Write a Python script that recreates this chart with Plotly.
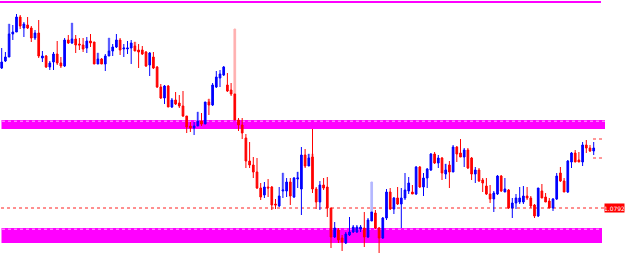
import plotly.graph_objects as go

# OHLC values (price units)
open_ = [1.0932,1.0939,1.0943,1.0966,1.0968,1.0983,1.0972,1.0975,1.0972,1.0962,
         1.0967,1.0942,1.0944,1.0933,1.0938,1.0946,1.0937,1.0934,1.0960,1.0957,
         1.0961,1.0956,1.0955,1.0952,1.0959,1.0958,1.0936,1.0941,1.0936,1.0944,
         1.0949,1.0953,1.0960,1.0951,1.0951,1.0952,1.0954,1.0950,1.0950,1.0948,
         1.0935,1.0943,1.0933,1.0913,1.0902,1.0914,1.0893,1.0900,1.0897,1.0894,
         1.0884,1.0874,1.0872,1.0874,1.0879,1.0876,1.0898,1.0895,1.0913,1.0922,
         1.0925,1.0915,1.0910,1.0906,1.0880,1.0875,1.0862,1.0839,1.0835,1.0828,
         1.0812,1.0805,1.0813,1.0813,1.0796,1.0794,1.0809,1.0809,1.0818,1.0803,
         1.0821,1.0811,1.0845,1.0834,1.0843,1.0811,1.0798,1.0815,1.0813,1.0792,
         1.0763,1.0770,1.0762,1.0757,1.0765,1.0768,1.0768,1.0771,1.0772,1.0763,
         1.0779,1.0787,1.0772,1.0762,1.0782,1.0808,1.0791,1.0802,1.0796,1.0802,
         1.0809,1.0808,1.0806,1.0833,1.0813,1.0822,1.0830,1.0846,1.0837,1.0842,
         1.0826,1.0835,1.0828,1.0853,1.0847,1.0843,1.0850,1.0842,1.0826,1.0830,
         1.0820,1.0814,1.0806,1.0801,1.0806,1.0824,1.0808,1.0810,1.0792,1.0797,
         1.0798,1.0798,1.0804,1.0802,1.0795,1.0784,1.0809,1.0803,1.0799,1.0792,
         1.0801,1.0827,1.0819,1.0808,1.0838,1.0847,1.0840,1.0838,1.0855,1.0852,
         1.0849]
high = [1.0952,1.0948,1.0976,1.0975,1.0986,1.0985,1.0978,1.0983,1.0974,1.0970,
        1.0980,1.0949,1.0945,1.0939,1.0948,1.0959,1.0943,1.0962,1.0965,1.0977,
        1.0965,1.0962,1.0962,1.0963,1.0966,1.0958,1.0947,1.0942,1.0946,1.0962,
        1.0956,1.0966,1.0962,1.0956,1.0959,1.0960,1.0958,1.0956,1.0954,1.0949,
        1.0948,1.0948,1.0934,1.0916,1.0915,1.0915,1.0902,1.0908,1.0905,1.0909,
        1.0884,1.0878,1.0878,1.0888,1.0887,1.0898,1.0901,1.0917,1.0929,1.0930,
        1.0934,1.0927,1.0917,1.0906,1.0882,1.0882,1.0866,1.0858,1.0843,1.0842,
        1.0817,1.0818,1.0821,1.0814,1.0801,1.0813,1.0827,1.0822,1.0822,1.0823,
        1.0828,1.0853,1.0851,1.0846,1.0871,1.0813,1.0819,1.0822,1.0823,1.0792,
        1.0778,1.0772,1.0765,1.0768,1.0783,1.0775,1.0775,1.0775,1.0788,1.0782,
        1.0788,1.0790,1.0773,1.0783,1.0811,1.0812,1.0803,1.0813,1.0812,1.0827,
        1.0823,1.0815,1.0834,1.0834,1.0827,1.0832,1.0847,1.0848,1.0845,1.0843,
        1.0836,1.0839,1.0855,1.0854,1.0861,1.0852,1.0852,1.0843,1.0833,1.0832,
        1.0822,1.0822,1.0815,1.0809,1.0825,1.0825,1.0822,1.0811,1.0802,1.0806,
        1.0813,1.0814,1.0813,1.0804,1.0796,1.0812,1.0816,1.0807,1.0802,1.0802,
        1.0827,1.0833,1.0822,1.0840,1.0848,1.0850,1.0848,1.0858,1.0860,1.0855,
        1.0858]
low = [1.0931,1.0938,1.0943,1.0960,1.0968,1.0971,1.0963,1.0971,1.0958,1.0960,
       1.0942,1.0938,1.0932,1.0930,1.0930,1.0935,1.0932,1.0933,1.0956,1.0956,
       1.0947,1.0950,1.0948,1.0947,1.0953,1.0936,1.0936,1.0936,1.0929,1.0944,
       1.0944,1.0952,1.0945,1.0943,1.0946,1.0936,1.0949,1.0932,1.0945,1.0933,
       1.0924,1.0931,1.0912,1.0901,1.0896,1.0893,1.0892,1.0895,1.0892,1.0883,
       1.0867,1.0868,1.0865,1.0874,1.0874,1.0876,1.0885,1.0894,1.0912,1.0913,
       1.0924,1.0908,1.0904,1.0880,1.0869,1.0861,1.0832,1.0832,1.0822,1.0811,
       1.0800,1.0802,1.0803,1.0790,1.0791,1.0793,1.0802,1.0803,1.0795,1.0802,
       1.0812,1.0785,1.0832,1.0834,1.0807,1.0791,1.0790,1.0810,1.0783,1.0752,
       1.0762,1.0757,1.0749,1.0756,1.0764,1.0767,1.0767,1.0768,1.0753,1.0762,
       1.0779,1.0771,1.0747,1.0761,1.0780,1.0790,1.0786,1.0795,1.0772,1.0800,
       1.0806,1.0806,1.0805,1.0812,1.0804,1.0812,1.0829,1.0836,1.0832,1.0820,
       1.0821,1.0812,1.0828,1.0838,1.0843,1.0833,1.0831,1.0820,1.0817,1.0818,
       1.0808,1.0805,1.0797,1.0788,1.0805,1.0808,1.0808,1.0791,1.0782,1.0791,
       1.0796,1.0796,1.0800,1.0792,1.0782,1.0783,1.0802,1.0798,1.0792,1.0789,
       1.0800,1.0818,1.0808,1.0807,1.0832,1.0838,1.0838,1.0834,1.0847,1.0848,
       1.0845]
close = [1.0938,1.0943,1.0966,1.0968,1.0983,1.0974,1.0976,1.0972,1.0962,1.0967,
         1.0944,1.0944,1.0933,1.0937,1.0946,1.0937,1.0934,1.0960,1.0957,1.0961,
         1.0955,1.0955,1.0951,1.0959,1.0957,1.0936,1.0941,1.0936,1.0944,1.0949,
         1.0953,1.0960,1.0950,1.0952,1.0952,1.0957,1.0949,1.0948,1.0946,1.0934,
         1.0947,1.0932,1.0913,1.0902,1.0914,1.0893,1.0900,1.0896,1.0894,1.0884,
         1.0873,1.0872,1.0874,1.0879,1.0876,1.0898,1.0895,1.0915,1.0923,1.0926,
         1.0933,1.0909,1.0906,1.0880,1.0875,1.0867,1.0839,1.0835,1.0828,1.0812,
         1.0803,1.0813,1.0812,1.0795,1.0795,1.0804,1.0810,1.0818,1.0804,1.0822,
         1.0822,1.0845,1.0834,1.0842,1.0811,1.0798,1.0815,1.0812,1.0792,1.0763,
         1.0772,1.0760,1.0758,1.0766,1.0768,1.0773,1.0773,1.0773,1.0763,1.0780,
         1.0788,1.0772,1.0762,1.0782,1.0808,1.0791,1.0802,1.0796,1.0802,1.0810,
         1.0817,1.0806,1.0833,1.0813,1.0822,1.0831,1.0846,1.0837,1.0842,1.0827,
         1.0830,1.0828,1.0853,1.0846,1.0843,1.0850,1.0832,1.0826,1.0830,1.0819,
         1.0817,1.0806,1.0801,1.0807,1.0824,1.0809,1.0811,1.0792,1.0797,1.0802,
         1.0802,1.0804,1.0802,1.0794,1.0784,1.0812,1.0802,1.0798,1.0792,1.0801,
         1.0824,1.0819,1.0808,1.0839,1.0847,1.0838,1.0838,1.0855,1.0852,1.0849,
         1.0852]
bars = list(range(len(open_)))

# faint (ghost) extensions seen on a few candles
ghost_down_bar = [63, 36, 56, 84]
ghost_down_lo = [1.0906, 1.0954, 1.0898, 1.0843]
ghost_down_hi = [1.0971, 1.0958, 1.0901, 1.0846]
ghost_up_bar = [100, 2, 19, 29, 53, 76, 80, 26, 120, 83]
ghost_up_lo = [1.0788, 1.0966, 1.0961, 1.0949, 1.0879, 1.0810, 1.0822, 1.0941, 1.0830, 1.0842]
ghost_up_hi = [1.0818, 1.0976, 1.0977, 1.0962, 1.0888, 1.0827, 1.0828, 1.0947, 1.0836, 1.0846]

# horizontal levels
top_line = 1.0998
zone_upper = (1.0871, 1.0880)
zone_lower = (1.0757, 1.0772)
ref_line = 1.0792
ref_label = "1.0792"
box_levels = (1.0842, 1.0861)

fig = go.Figure()
fig.add_trace(go.Candlestick(
    x=ghost_down_bar, open=ghost_down_lo, high=ghost_down_hi, low=ghost_down_lo,
    close=ghost_down_hi,
    increasing=dict(line=dict(color="#ffb0b0", width=1), fillcolor="#ffb0b0"),
    decreasing=dict(line=dict(color="#ffb0b0", width=1), fillcolor="#ffb0b0"),
    whiskerwidth=0, hoverinfo="skip", showlegend=False,
))
fig.add_trace(go.Candlestick(
    x=ghost_up_bar, open=ghost_up_lo, high=ghost_up_hi, low=ghost_up_lo,
    close=ghost_up_hi,
    increasing=dict(line=dict(color="#b4b8ff", width=1), fillcolor="#b4b8ff"),
    decreasing=dict(line=dict(color="#b4b8ff", width=1), fillcolor="#b4b8ff"),
    whiskerwidth=0, hoverinfo="skip", showlegend=False,
))
fig.add_trace(go.Candlestick(
    x=bars, open=open_, high=high, low=low, close=close,
    increasing=dict(line=dict(color="#0000ff", width=1), fillcolor="#0000ff"),
    decreasing=dict(line=dict(color="#ff0000", width=1), fillcolor="#ff0000"),
    whiskerwidth=0, hoverinfo="skip", showlegend=False,
))

W = 625.0
def px(p):
    return p / W

shapes = []
shapes.append(dict(type="line", xref="paper", yref="y", x0=0, x1=px(601),
                   y0=top_line, y1=top_line, line=dict(color="#ff00ff", width=2), layer="below"))
shapes.append(dict(type="rect", xref="paper", yref="y", x0=px(1.5), x1=px(605),
                   y0=zone_upper[0], y1=zone_upper[1], fillcolor="#ff00ff",
                   line=dict(width=0), layer="below"))
shapes.append(dict(type="rect", xref="paper", yref="y", x0=px(1.5), x1=px(602),
                   y0=zone_lower[0], y1=zone_lower[1], fillcolor="#ff00ff",
                   line=dict(width=0), layer="below"))
for (lo, hi), x1 in ((zone_upper, 605), (zone_lower, 602)):
    yy = hi - 0.00012
    shapes.append(dict(type="line", xref="paper", yref="y", x0=px(2), x1=px(x1),
                       y0=yy, y1=yy, line=dict(color="#ffb3ff", width=1, dash="dot"),
                       layer="below"))
shapes.append(dict(type="line", xref="paper", yref="y", x0=px(1), x1=px(606),
                   y0=ref_line, y1=ref_line, line=dict(color="#ff2020", width=1, dash="dot"),
                   layer="below"))
for lv in box_levels:
    shapes.append(dict(type="line", xref="paper", yref="y", x0=px(593), x1=px(604),
                       y0=lv, y1=lv, line=dict(color="#ff3030", width=1, dash="dot"),
                       layer="below"))

fig.update_layout(
    width=625, height=270,
    margin=dict(l=0, r=0, t=0, b=0),
    paper_bgcolor="white", plot_bgcolor="white",
    showlegend=False,
    boxgap=0.35,
    boxmode="overlay",
    xaxis=dict(range=[-0.46, 168.46], visible=False, showgrid=False,
               rangeslider=dict(visible=False), fixedrange=True),
    yaxis=dict(range=[1.0730, 1.1000], visible=False, showgrid=False, fixedrange=True),
    shapes=shapes,
    annotations=[dict(xref="paper", yref="y", x=1, y=ref_line, xanchor="right",
                      yanchor="middle", text=ref_label, showarrow=False,
                      bgcolor="#ff0000", font=dict(color="white", size=6, family="DejaVu Sans"),
                      borderpad=0, width=19, height=8)],
)

fig.write_html("out.html", config={"displayModeBar": False})
